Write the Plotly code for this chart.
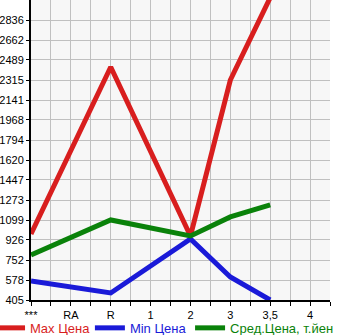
import plotly.graph_objects as go

categories = ["***", "RA", "R", "1", "2", "3", "3,5", "4"]
max_price = [978, None, 2428, None, 961, 2315, 3030, None]
min_price = [570, None, 466, None, 935, 605, 405, None]
avg_price = [796, None, 1100, None, 961, 1126, 1230, None]
y_ticks = [405, 578, 752, 926, 1099, 1273, 1447, 1620, 1794, 1968, 2141, 2315, 2489, 2662, 2836]

x = list(range(len(categories)))

series = [
    ("Max Цена", max_price, "#d81e1e", "legend"),
    ("Min Цена", min_price, "#1a1ad8", "legend2"),
    ("Сред.Цена, т.йен", avg_price, "#0a820a", "legend3"),
]

fig = go.Figure()
for name, vals, color, lg in series:
    fig.add_trace(go.Scatter(
        x=x, y=vals, mode="lines", connectgaps=True,
        name=f"<span style='color:{color}'>{name}</span>",
        line=dict(color=color, width=5), legend=lg,
    ))

step = (y_ticks[-1] - y_ticks[0]) / (len(y_ticks) - 1)

def leg(xpos):
    return dict(orientation="h", x=xpos, xanchor="left",
                y=-0.093, yanchor="middle",
                font=dict(size=13), itemwidth=30,
                bgcolor="rgba(0,0,0,0)")

fig.update_layout(
    width=345, height=335,
    margin=dict(l=31, r=15, t=0, b=35, autoexpand=False),
    paper_bgcolor="white",
    plot_bgcolor="#f7f7f7",
    font=dict(family="Liberation Sans, Arial, sans-serif", size=11, color="black"),
    showlegend=True,
    legend=leg(-0.137),
    legend2=leg(0.197),
    legend3=leg(0.532),
)
fig.update_xaxes(
    range=[0, 7.5], tickvals=x, ticktext=categories,
    showgrid=True, gridcolor="#c0c0c0", gridwidth=1,
    showline=True, linecolor="black", linewidth=2,
    ticks="outside", ticklen=4, tickcolor="black",
    minor=dict(dtick=0.5, tick0=0, showgrid=True, gridcolor="#c0c0c0",
               ticks="outside", ticklen=4, tickcolor="black"),
    zeroline=False, tickfont=dict(size=11), automargin=False,
)
fig.update_yaxes(
    range=[y_ticks[0], y_ticks[-1] + step], tickvals=y_ticks,
    showgrid=True, gridcolor="#c0c0c0", gridwidth=1,
    showline=True, linecolor="black", linewidth=2,
    ticks="outside", ticklen=3, tickcolor="black",
    zeroline=False, tickfont=dict(size=11), automargin=False,
)

fig.write_html("out.html")
